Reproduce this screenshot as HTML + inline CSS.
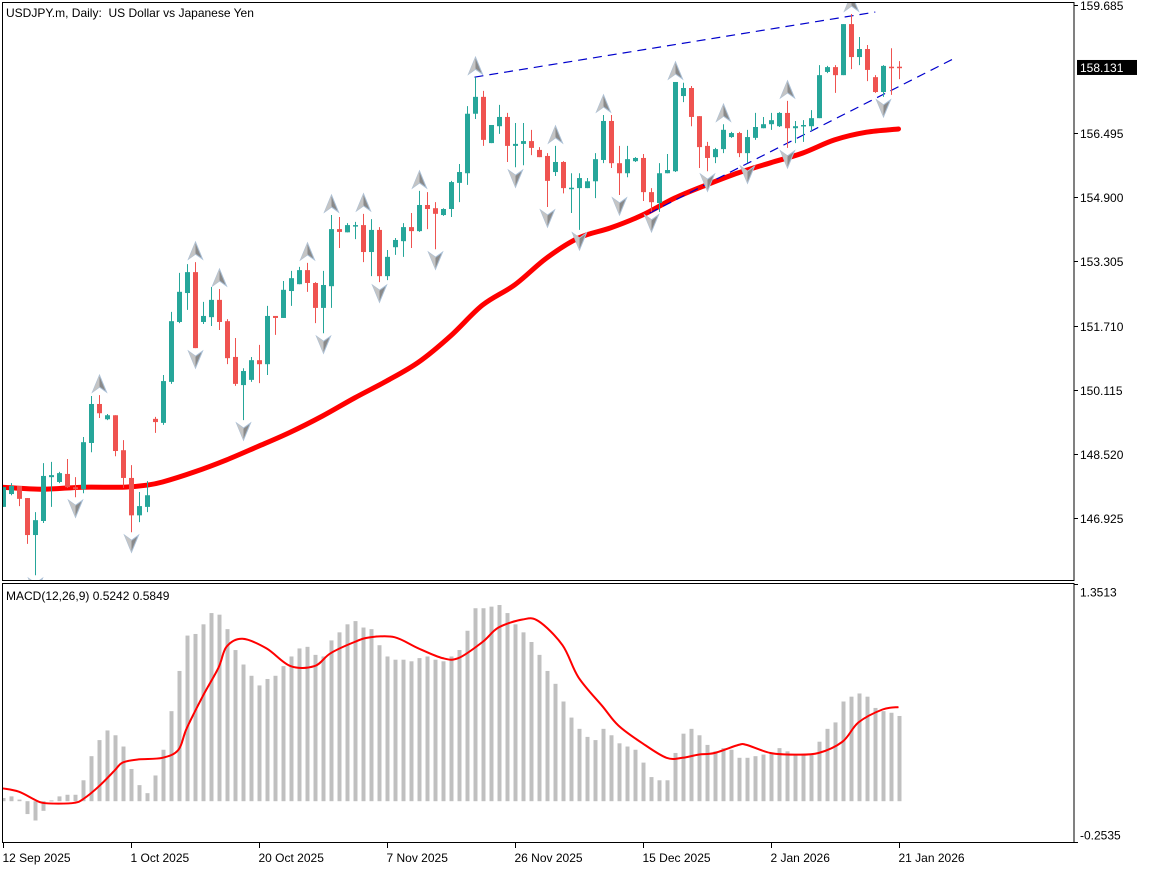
<!DOCTYPE html>
<html><head><meta charset="utf-8"><title>USDJPY Daily</title>
<style>
html,body{margin:0;padding:0;background:#fff;}
svg{display:block;font-family:"Liberation Sans",sans-serif;}
</style></head>
<body>
<svg id="chart" width="1152" height="870" viewBox="0 0 1152 870" xmlns="http://www.w3.org/2000/svg">
<defs>
<clipPath id="mainClip"><rect x="2" y="2" width="1072" height="579"/></clipPath>
<clipPath id="macdClip"><rect x="2" y="583" width="1072" height="260"/></clipPath>
</defs>
<rect x="0" y="0" width="1152" height="870" fill="#fff"/>
<g id="mainPanel" clip-path="url(#mainClip)"></g>
<g id="macdPanel" clip-path="url(#macdClip)"></g>
<rect x="2.5" y="2.5" width="1071.5" height="578" fill="none" stroke="#000" stroke-width="1"/>
<rect x="2.5" y="583.5" width="1071.5" height="259" fill="none" stroke="#000" stroke-width="1"/>
<g id="axes" font-size="12" fill="#000"></g>
<text x="6" y="17" font-size="12" fill="#000" xml:space="preserve">USDJPY.m, Daily:  US Dollar vs Japanese Yen</text>
<text x="6" y="600" font-size="12" fill="#000">MACD(12,26,9) 0.5242 0.5849</text>
</svg>
<script>
const opens=[147.20,147.52,147.72,147.42,146.50,146.85,147.94,147.82,148.02,147.69,
147.64,148.79,149.76,149.38,149.48,148.61,147.92,146.99,147.20,149.39,
149.29,150.31,151.80,152.52,153.04,151.80,151.92,152.35,151.82,150.93,
150.23,150.36,150.85,150.75,151.95,151.90,152.57,152.74,153.09,152.77,
152.15,152.69,154.11,154.03,154.19,154.21,153.54,154.09,152.94,153.66,
153.81,154.16,154.06,154.71,154.63,154.46,154.61,155.26,155.50,156.98,
157.40,156.25,156.67,156.90,156.18,156.23,156.30,156.08,155.93,155.53,
155.78,155.12,155.13,155.13,155.30,155.83,156.80,155.75,155.50,155.80,
155.88,155.03,154.76,155.50,155.55,157.42,157.62,156.92,156.18,155.90,
156.10,156.40,156.50,156.00,156.38,156.62,156.72,156.67,157.00,156.62,
156.67,156.67,156.87,158.02,158.14,157.94,159.21,158.39,158.59,157.89,
157.52,158.15,158.15];
const highs=[147.69,147.79,147.72,147.42,147.07,148.29,148.32,148.07,148.39,147.94,
148.94,149.96,149.98,149.51,149.48,148.86,148.24,147.57,147.84,149.44,
150.48,152.05,153.02,153.24,153.29,152.30,152.67,152.62,151.87,151.40,
150.65,150.93,151.23,152.20,151.95,152.82,153.07,153.17,153.27,152.79,
153.07,154.46,154.41,154.26,154.29,154.49,154.36,154.16,153.59,153.89,
154.26,154.51,155.06,155.03,154.78,154.63,155.31,155.73,157.17,157.89,
157.55,156.70,157.20,157.00,156.75,156.75,156.58,156.15,156.00,156.18,
155.80,155.50,155.50,155.38,156.00,156.95,156.95,156.18,156.18,155.90,
155.98,155.13,155.75,155.98,157.77,157.75,157.67,156.92,156.28,156.13,
156.72,156.53,156.53,156.58,157.00,156.90,157.00,157.02,157.30,156.80,
156.82,157.07,158.19,158.17,158.19,159.21,159.46,158.89,158.69,157.94,
158.19,158.61,158.29];
const lows=[147.20,147.49,147.22,146.28,145.50,146.80,147.20,147.79,147.67,147.44,
147.54,148.56,149.41,149.36,148.46,147.67,146.57,146.82,147.07,149.04,
149.24,150.26,151.77,152.10,151.15,151.75,151.70,151.60,150.75,150.21,
149.36,150.31,150.28,150.48,151.48,151.90,152.20,152.74,152.55,151.77,
151.52,152.15,153.64,154.03,153.86,153.29,152.94,152.79,152.84,153.47,
153.42,153.64,154.04,154.11,153.61,154.44,154.41,154.78,155.21,156.85,
156.18,156.25,156.48,155.78,155.65,155.70,155.95,155.90,154.66,155.43,
155.00,154.51,154.09,155.13,154.88,155.75,155.63,154.96,155.40,155.78,
154.81,154.54,154.54,155.50,155.53,157.27,156.67,155.63,155.55,155.75,
156.00,156.38,155.90,155.75,156.33,156.62,156.58,156.65,156.13,156.25,
156.28,156.55,156.87,157.99,157.50,157.94,158.09,158.19,157.79,157.50,
157.40,157.45,157.84];
const closes=[147.69,147.72,147.40,146.50,146.87,147.97,147.99,148.04,147.69,147.64,
148.81,149.76,149.53,149.48,148.59,147.92,146.99,147.22,147.49,149.31,
150.33,151.82,152.55,153.04,151.15,151.95,152.35,151.80,150.90,150.26,
150.58,150.85,150.75,151.95,151.90,152.60,152.89,153.09,152.77,152.15,
152.72,154.11,154.04,154.21,154.21,153.54,154.09,152.94,153.42,153.84,
154.16,154.06,154.71,154.61,154.49,154.61,155.28,155.53,156.98,157.40,
156.33,156.70,156.90,156.18,156.23,156.30,156.13,155.90,155.31,155.78,
155.13,155.14,155.38,155.30,155.85,156.80,155.75,155.50,155.85,155.88,
155.03,154.78,155.50,155.58,157.77,157.62,156.90,156.15,155.88,156.10,
156.58,156.50,156.00,156.40,156.65,156.72,156.82,157.00,156.62,156.67,
156.70,156.87,157.94,158.14,157.94,159.21,158.39,158.59,158.07,157.52,
158.17,158.12,158.13];
const maIdx=[0,5,10,15,18,20,24,28,32,36,40,44,48,52,56,60,64,68,72,76,80,84,88,92,96,100,104,108,112];
const maVal=[147.69,147.64,147.69,147.69,147.74,147.82,148.07,148.37,148.71,149.06,149.46,149.91,150.33,150.80,151.45,152.22,152.72,153.39,153.89,154.14,154.46,154.88,155.21,155.51,155.76,156.00,156.33,156.52,156.60];
const upFractals=[12,24,27,38,41,45,52,59,69,75,84,90,98,106];
const downFractals=[4,9,16,24,30,40,47,54,64,68,72,77,81,88,93,98,110];
const trendIdx1=[59,109.1];
const trendPx1=[157.89,159.51];
const trendIdx2=[80.9,119.3];
const trendPx2=[154.51,158.39];
const macdHist=[0.02,0.03,0.01,-0.08,-0.12,-0.06,0.005,0.03,0.04,0.04,
0.13,0.28,0.38,0.44,0.41,0.34,0.20,0.10,0.05,0.16,
0.32,0.56,0.81,1.03,1.04,1.10,1.17,1.16,1.07,0.94,
0.85,0.78,0.72,0.76,0.78,0.84,0.90,0.95,0.96,0.91,
0.90,1.00,1.05,1.10,1.12,1.08,1.07,0.97,0.90,0.88,
0.88,0.87,0.89,0.90,0.88,0.87,0.90,0.94,1.06,1.20,
1.20,1.21,1.22,1.17,1.10,1.05,0.99,0.91,0.81,0.73,
0.62,0.52,0.45,0.40,0.38,0.45,0.41,0.36,0.34,0.32,
0.24,0.15,0.13,0.13,0.30,0.42,0.45,0.41,0.35,0.31,
0.33,0.32,0.27,0.27,0.28,0.29,0.30,0.33,0.31,0.29,
0.29,0.29,0.37,0.45,0.49,0.62,0.65,0.67,0.65,0.58,
0.56,0.55,0.53];
const sigIdx=[0,2,4,5,7,9,10,12,14,15,17,20,22,23,25,27,28,30,33,36,39,41,44,46,49,52,55,57,60,62,65,67,70,72,75,77,80,83,85,87,89,92,93,96,99,102,105,107,110,112];
const sigVal=[0.08,0.06,0.01,-0.01,-0.015,-0.01,0.01,0.09,0.19,0.24,0.26,0.27,0.32,0.45,0.65,0.83,0.96,1.01,0.95,0.84,0.84,0.92,0.99,1.02,1.02,0.95,0.89,0.89,0.99,1.08,1.13,1.12,0.97,0.77,0.59,0.47,0.36,0.27,0.27,0.29,0.30,0.35,0.35,0.30,0.29,0.30,0.37,0.49,0.57,0.585];
const priceTicks=[159.685,156.495,154.900,153.305,151.710,150.115,148.520,146.925];
const priceTickLabels=["159.685","156.495","154.900","153.305","151.710","150.115","148.520","146.925"];
const currentPrice=158.131;
const macdTicks=[1.3513,-0.2535];
const macdTickLabels=["1.3513","-0.2535"];
const dateIdx=[0,16,32,48,64,80,96,112];
const dateLabels=["12 Sep 2025","1 Oct 2025","20 Oct 2025","7 Nov 2025","26 Nov 2025","15 Dec 2025","2 Jan 2026","21 Jan 2026"];

const NS="http://www.w3.org/2000/svg";
function xOf(i){return 2.5+8*i;}
function yP(p){return 5+(159.685-p)*40.2;}
function yM(v){return 801.2-v*160.8;}
function mk(tag,attrs,parent){const e=document.createElementNS(NS,tag);for(const k in attrs)e.setAttribute(k,attrs[k]);parent.appendChild(e);return e;}
function smoothPath(pts){
  let d='M'+pts[0][0].toFixed(1)+','+pts[0][1].toFixed(1);
  for(let k=0;k<pts.length-1;k++){
    const p0=pts[Math.max(0,k-1)],p1=pts[k],p2=pts[k+1],p3=pts[Math.min(pts.length-1,k+2)];
    const c1x=p1[0]+(p2[0]-p0[0])/6,c1y=p1[1]+(p2[1]-p0[1])/6;
    const c2x=p2[0]-(p3[0]-p1[0])/6,c2y=p2[1]-(p3[1]-p1[1])/6;
    d+='C'+c1x.toFixed(1)+','+c1y.toFixed(1)+' '+c2x.toFixed(1)+','+c2y.toFixed(1)+' '+p2[0].toFixed(1)+','+p2[1].toFixed(1);
  }
  return d;
}
const main=document.getElementById('mainPanel');
const macd=document.getElementById('macdPanel');
const axes=document.getElementById('axes');

// MA line
const maPts=maIdx.map((ix,k)=>[xOf(ix),yP(maVal[k])]);
const ma=mk('path',{d:smoothPath(maPts),fill:'none',stroke:'#ff0000','stroke-width':5,'stroke-linejoin':'round','stroke-linecap':'round'},main);



// trend lines
[[trendIdx1,trendPx1,'upper-trend-line'],[trendIdx2,trendPx2,'lower-trend-line']].forEach(t=>{
  const l=mk('line',{x1:xOf(t[0][0]),y1:yP(t[1][0]),x2:xOf(t[0][1]),y2:yP(t[1][1]),stroke:'#0000cc','stroke-width':1.2,'stroke-dasharray':'9,6'},main);
  
  
});

// candles
for(let i=0;i<opens.length;i++){
  const up=closes[i]>=opens[i];
  const col=up?'#26a69a':'#ef5350';
  const g=mk('g',{},main);
  
  
  const cx=Math.round(xOf(i))+0.5;
  mk('line',{x1:cx,x2:cx,y1:yP(highs[i]),y2:yP(lows[i]),stroke:col,'stroke-width':1},g);
  const top=yP(Math.max(opens[i],closes[i])),bot=yP(Math.min(opens[i],closes[i]));
  mk('rect',{x:cx-2.5,y:top,width:5,height:Math.max(1.5,bot-top),fill:col},g);
}

// fractals
function arrow(i,upDir){
  const cx=Math.round(xOf(i))+0.5;
  let pts;
  if(upDir){const b=yP(highs[i])-3;pts=[[cx,b-17],[cx+7,b],[cx,b-5],[cx-7,b]];}
  else{const b=yP(lows[i])+3;pts=[[cx,b+17],[cx+7,b],[cx,b+5],[cx-7,b]];}
  const p=mk('polygon',{points:pts.map(q=>q.join(',')).join(' '),fill:'#8a8a8a',stroke:'#a9bfd6','stroke-width':1},main);
  
  
  const h=mk('polygon',{points:[pts[0],pts[3],pts[2]].map(q=>q.join(',')).join(' '),fill:'#c4c4c4'},main);
  
  
}
upFractals.forEach(i=>arrow(i,true));
downFractals.forEach(i=>arrow(i,false));

// MACD histogram
macdHist.forEach((v,i)=>{
  const y0=yM(0),y1=yM(v);
  const r=mk('rect',{x:Math.round(xOf(i))-1.5,y:Math.min(y0,y1),width:4,height:Math.max(1,Math.abs(y1-y0)),fill:'#c0c0c0'},macd);
  
  
});
const sigPts=sigIdx.map((ix,k)=>[xOf(ix),yM(sigVal[k])]);
const sig=mk('path',{d:smoothPath(sigPts),fill:'none',stroke:'#ff0000','stroke-width':2,'stroke-linejoin':'round'},macd);



// price axis
priceTicks.forEach((p,k)=>{
  const y=Math.round(yP(p))+0.5;
  const t=mk('line',{x1:1074,x2:1078,y1:y,y2:y,stroke:'#000'},axes);
  
  
  const tx=mk('text',{x:1080,y:y+4.5},axes);
  tx.textContent=priceTickLabels[k];
  
  
});
{
  const y=yP(currentPrice);
  const b=mk('rect',{x:1077,y:y-7.5,width:60,height:15,fill:'#000'},axes);
  
  
  const tx=mk('text',{x:1080,y:y+4.5,fill:'#fff'},axes);
  tx.textContent=currentPrice.toFixed(3);
  
  
}
macdTicks.forEach((v,k)=>{
  const y=Math.round(yM(v))+0.5;
  const t=mk('line',{x1:1074,x2:1078,y1:y,y2:y,stroke:'#000'},axes);
  
  
  const tx=mk('text',{x:1080,y:(k===0?y+12:y-3)},axes);
  tx.textContent=macdTickLabels[k];
  
  
});
// time axis
dateIdx.forEach((ix,k)=>{
  const x=Math.round(xOf(ix))+0.5;
  const t=mk('line',{x1:x,x2:x,y1:843,y2:848,stroke:'#000'},axes);
  
  
  const tx=mk('text',{x:x-1,y:862},axes);
  tx.textContent=dateLabels[k];
  
  
});
</script>
</body></html>
